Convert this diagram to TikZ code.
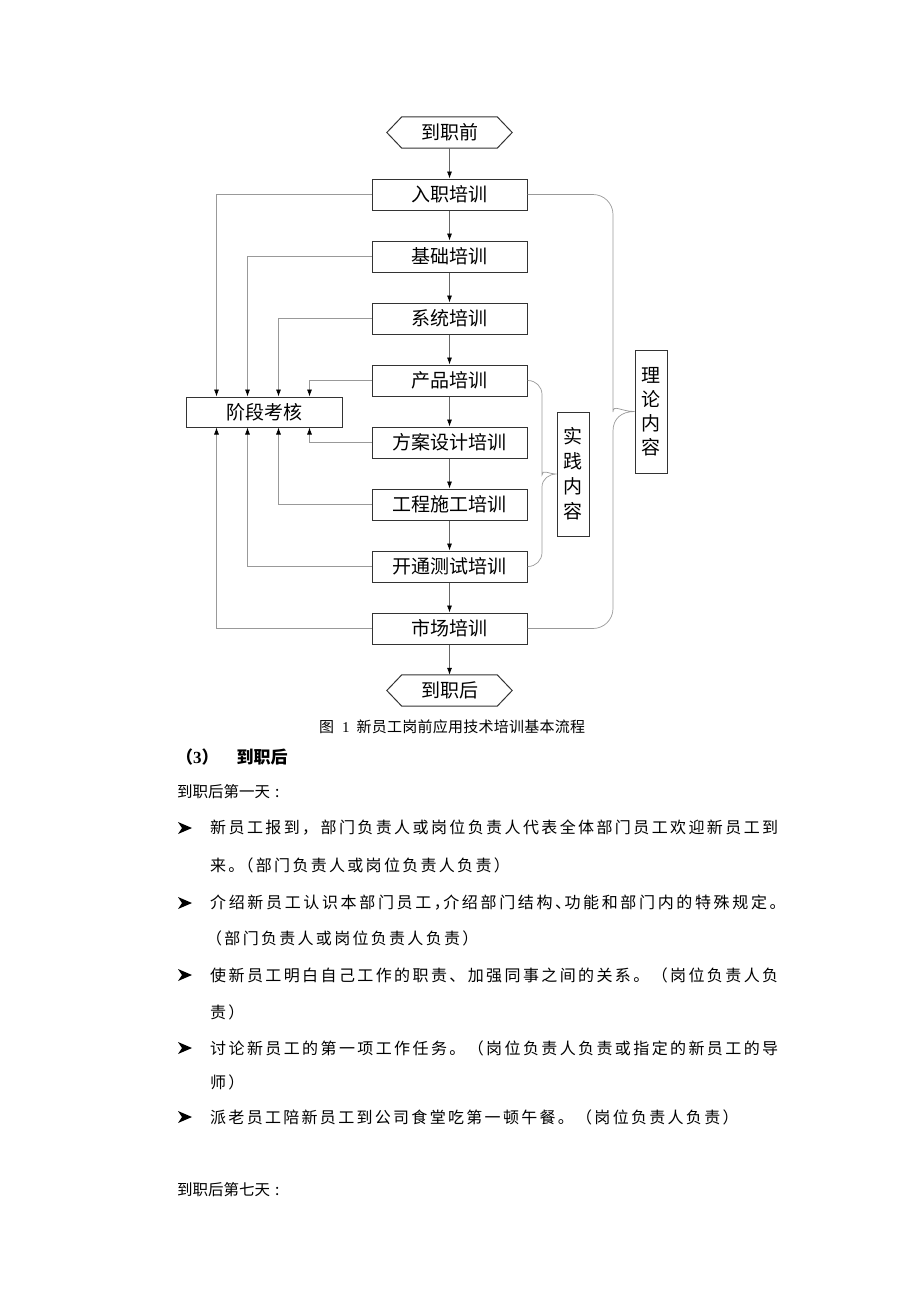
\documentclass[tikz,border=0pt]{standalone}
\usepackage{fontspec}
\setmainfont{Liberation Serif}
\newfontfamily\cjk{Noto Sans CJK SC}
\usetikzlibrary{arrows.meta,calc}
\def\hp{HP}
\def\hq{HQ}
\newcommand\chs[2]{\def\chspitch{#1}\chsloop#2\relax}
\def\chsloop#1{%
  \ifx#1\relax\let\chsnext\relax
  \else\ifx#1\hp\let\chsnext\chshalfl
  \else\ifx#1\hq\let\chsnext\chshalfr
  \else\makebox[\chspitch pt][l]{#1}\let\chsnext\chsloop
  \fi\fi\fi\chsnext}
\def\chshalfl#1{\makebox[\dimexpr\chspitch pt/2\relax][l]{#1}\chsloop}
\def\chshalfr#1{\makebox[\dimexpr\chspitch pt/2\relax][r]{#1}\chsloop}
\begin{document}
\begin{tikzpicture}[x=1pt,y=-1pt,
  box/.style={draw=black!80, line width=1pt, minimum width=155pt, minimum height=31pt, inner sep=0pt, font=\fontsize{19}{22}\cjk},
  hexlabel/.style={minimum width=125pt, minimum height=31pt, inner sep=0pt, font=\fontsize{19}{22}\cjk},
  hexline/.style={draw=black!80, line width=1pt},
  vbox/.style={draw=black!80, line width=1pt, minimum width=32pt, inner sep=0pt, align=center, font=\fontsize{19}{24}\cjk},
  flow/.style={draw=black!60, line width=0.7pt, -{Latex[length=7pt,width=5pt,color=black]}},
  side/.style={draw=black!40, line width=0.7pt, -{Latex[length=7pt,width=5pt,color=black]}},
  brace/.style={draw=black!40, line width=0.7pt},
  body/.style={anchor=west, inner sep=0pt, font=\fontsize{16}{19}\cjk},
  bulletmark/.pic={\fill (0,-6) -- (14,0) -- (0,6) -- (4,0) -- cycle;}
]
\useasboundingbox (0,0) rectangle (920,1302);
\fill[white] (0,0) rectangle (920,1302);

% flowchart nodes
\node[hexlabel] (pre) at (449.5,132.5) {到职前};
\node[box] (b1) at (449.5,194.5) {入职培训};
\node[box] (b2) at (449.5,256.5) {基础培训};
\node[box] (b3) at (449.5,318.5) {系统培训};
\node[box] (b4) at (449.5,380.5) {产品培训};
\node[box] (b5) at (449.5,442.5) {方案设计培训};
\node[box] (b6) at (449.5,504.5) {工程施工培训};
\node[box] (b7) at (449.5,566.5) {开通测试培训};
\node[box] (b8) at (449.5,628.5) {市场培训};
\node[hexlabel] (post) at (449.5,690.5) {到职后};
\node[box, minimum width=156pt, minimum height=30pt] (st) at (264,412) {阶段考核};
\node[vbox, minimum height=123pt] (th) at (651,411.5) {理\\论\\内\\容};
\node[vbox, minimum height=124pt, font=\fontsize{19}{25}\cjk] (pr) at (573,474) {实\\践\\内\\容};

\foreach \h in {pre,post}{
  \draw[hexline] (\h.west) -- ([xshift=15pt]\h.north west) -- ([xshift=-15pt]\h.north east)
    -- (\h.east) -- ([xshift=-15pt]\h.south east) -- ([xshift=15pt]\h.south west) -- cycle;
}

% main flow
\draw[flow] (pre) -- (b1);
\draw[flow] (b1) -- (b2);
\draw[flow] (b2) -- (b3);
\draw[flow] (b3) -- (b4);
\draw[flow] (b4) -- (b5);
\draw[flow] (b5) -- (b6);
\draw[flow] (b6) -- (b7);
\draw[flow] (b7) -- (b8);
\draw[flow] (b8) -- (post);

% assessment connectors
\draw[side] (b1.west) -| ([xshift=31pt]st.north west);
\draw[side] (b2.west) -| ([xshift=62pt]st.north west);
\draw[side] (b3.west) -| ([xshift=93pt]st.north west);
\draw[side] (b4.west) -| ([xshift=124pt]st.north west);
\draw[side] (b5.west) -| ([xshift=124pt]st.south west);
\draw[side] (b6.west) -| ([xshift=93pt]st.south west);
\draw[side] (b7.west) -| ([xshift=62pt]st.south west);
\draw[side] (b8.west) -| ([xshift=31pt]st.south west);

% braces
\draw[brace, rounded corners=20pt] (b1.east) -| (613,392) [sharp corners]
  .. controls (613,404) and (621,411.5) .. (th.west)
  .. controls (621,411.5) and (613,419) .. (613,431) [rounded corners=20pt] |- (b8.east);
\draw[brace, rounded corners=14pt] (b4.east) -| (542,461) [sharp corners]
  .. controls (542,469) and (549,474) .. (pr.west)
  .. controls (549,474) and (542,479) .. (542,487) [rounded corners=14pt] |- (b7.east);

% caption and text
\node[body, font=\fontsize{15}{18}\cjk] (cap) at (319,727) {图\hspace{8pt}{\rmfamily 1}\hspace{7pt}\chs{15.25}{新员工岗前应用技术培训基本流程}};
\node[body, font=\fontsize{17}{20}\cjk\bfseries] (hd) at (176,757) {（{\rmfamily\bfseries 3}）\hspace{18pt}到职后};
\node[body, font=\fontsize{15.5}{18}\cjk] (d1) at (177,792) {\chs{15.5}{到职后第一天}\hspace{5pt}:};

\pic at (178,828) {bulletmark};
\node[body] (l1) at (210,828) {\chs{18.4}{新员工报到，部门负责人或岗位负责人代表全体部门员工欢迎新员工到}};
\node[body] (l2) at (210,865) {\chs{18.3}{来\hp。（部门负责人或岗位负责人负责）}};
\pic at (178,903) {bulletmark};
\node[body] (l3) at (210,903) {\chs{18.65}{介绍新员工认识本部门员工\hp，介绍部门结构\hp、功能和部门内的特殊规定。}};
\node[body] (l4) at (206,938) {\chs{18.3}{（部门负责人或岗位负责人负责）}};
\pic at (178,975) {bulletmark};
\node[body] (l5) at (210,975) {\chs{18.4}{使新员工明白自己工作的职责、加强同事之间的关系。（岗位负责人负}};
\node[body] (l6) at (210,1012) {\chs{18.3}{责）}};
\pic at (178,1048) {bulletmark};
\node[body] (l7) at (210,1048) {\chs{18.4}{讨论新员工的第一项工作任务。（岗位负责人负责或指定的新员工的导}};
\node[body] (l8) at (210,1082) {\chs{18.3}{师）}};
\pic at (178,1117) {bulletmark};
\node[body] (l9) at (210,1117) {\chs{18.3}{派老员工陪新员工到公司食堂吃第一顿午餐。（岗位负责人负责）}};
\node[body, font=\fontsize{15.5}{18}\cjk] (d7) at (177,1190) {\chs{15.5}{到职后第七天}\hspace{5pt}:};
\end{tikzpicture}
\end{document}
